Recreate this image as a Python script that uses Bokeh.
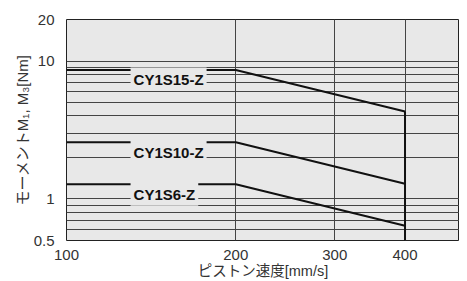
from bokeh.plotting import figure
from bokeh.models import FixedTicker, Label, Range1d
from bokeh.embed import file_html
from bokeh.resources import INLINE

# ---- data ----
speed = [100, 200, 400]
cy1s15 = [8.6, 8.6, 4.3]
cy1s10 = [2.58, 2.58, 1.29]
cy1s6 = [1.28, 1.28, 0.64]
limit_x = [400, 400]
limit_y = [0.5, 4.3]

series_names = ["CY1S15-Z", "CY1S10-Z", "CY1S6-Z"]
label_x = 130
label_y = [7.4, 2.18, 1.08]

x_ticks = [100, 200, 300, 400]
x_tick_labels = ["100", "200", "300", "400"]
y_ticks = [0.5, 1, 10, 20]
y_tick_labels = ["0.5", "1", "10", "20"]
x_grid = [200, 300, 400]
y_grid = [0.6, 0.7, 0.8, 0.9, 1, 2, 3, 4, 5, 6, 7, 8, 9, 10]

BG = "#e8e8e8"
INK = "#111111"

p = figure(width=459, height=281, x_axis_type="log", y_axis_type="log",
           x_range=Range1d(100, 500), y_range=Range1d(0.5, 20),
           output_backend="svg", toolbar_location=None,
           min_border_left=66, min_border_right=0, min_border_top=19, min_border_bottom=0)
p.background_fill_color = BG
p.border_fill_color = "white"
p.outline_line_color = "#222222"
p.outline_line_width = 1

p.xaxis.ticker = FixedTicker(ticks=x_ticks)
p.yaxis.ticker = FixedTicker(ticks=y_ticks)
p.xaxis.major_label_overrides = dict(zip(x_ticks, x_tick_labels))
p.yaxis.major_label_overrides = dict(zip(y_ticks, y_tick_labels))
p.xgrid.ticker = FixedTicker(ticks=x_grid)
p.ygrid.ticker = FixedTicker(ticks=y_grid)
for g in (p.xgrid, p.ygrid):
    g.grid_line_color = "#444444"
    g.grid_line_width = 1

for ax in (p.xaxis, p.yaxis):
    ax.axis_line_color = None
    ax.major_tick_line_color = None
    ax.minor_tick_line_color = None
    ax.major_label_text_font = "Liberation Sans"
    ax.major_label_text_font_size = "15px"
    ax.major_label_text_color = "#333333"
    ax.axis_label_text_font = "Liberation Sans, Noto Sans CJK JP"
    ax.axis_label_text_font_style = "normal"
    ax.axis_label_text_color = "#333333"

p.xaxis.axis_label = "ピストン速度[mm/s]"
p.yaxis.axis_label = "モーメントM₁, M₃[Nm]"
p.xaxis.axis_label_text_font_size = "14.5px"
p.yaxis.axis_label_text_font_size = "15px"
p.xaxis.major_label_standoff = 3
p.xaxis.axis_label_standoff = 0
p.yaxis.major_label_standoff = 6
p.yaxis.axis_label_standoff = 0

for ys in (cy1s15, cy1s10, cy1s6):
    p.line(speed, ys, line_color=INK, line_width=2)
p.line(limit_x, limit_y, line_color=INK, line_width=2)

for name, ly in zip(series_names, label_y):
    p.add_layout(Label(x=label_x, y=ly, text=name, text_font="Liberation Sans",
                       text_font_style="bold", text_font_size="15px", text_color=INK,
                       text_baseline="middle", text_align="left",
                       background_fill_color=BG, padding=3))

open("out.html", "w").write(file_html(p, INLINE))
